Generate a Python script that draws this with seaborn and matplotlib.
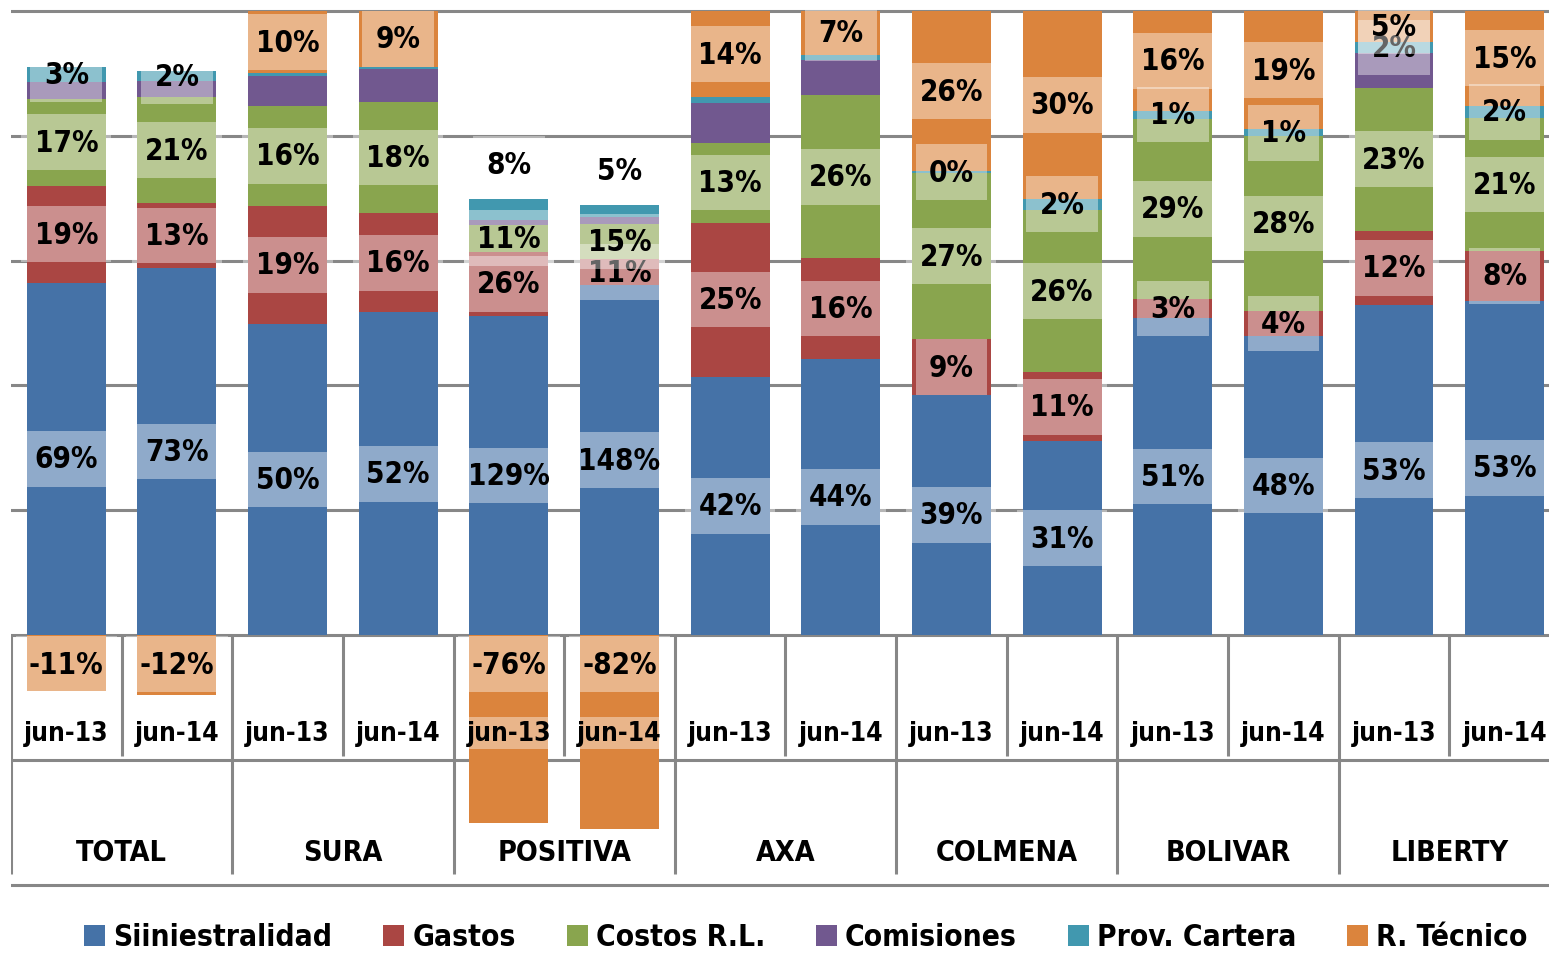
import numpy as np
import pandas as pd
import matplotlib
matplotlib.use("Agg")
import matplotlib.pyplot as plt
from matplotlib.patches import Patch
from matplotlib import font_manager as fm
import seaborn as sns

# ---------------- data ----------------
companies = ["TOTAL", "SURA", "POSITIVA", "AXA", "COLMENA", "BOLIVAR", "LIBERTY"]
periods = ["jun-13", "jun-14"]

series_names = ["Siiniestralidad", "Gastos", "Costos R.L.", "Comisiones",
                "Prov. Cartera", "R. Técnico"]

siniestralidad = [69, 73, 50, 52, 129, 148, 42, 44, 39, 31, 51, 48, 53, 53]
gastos = [19, 13, 19, 16, 26, 11, 25, 16, 9, 11, 3, 4, 12, 8]
costos_rl = [17, 21, 16, 18, 11, 15, 13, 26, 27, 26, 29, 28, 23, 21]
comisiones = [3.3, 3.2, 4.8, 5.3, 2.0, 3.0, 6.4, 5.6, 0, 0, 0, 0, 5.5, 0]
prov_cartera = [2.9, 2.0, 0.5, 0.3, 8.4, 5.0, 1.0, 0.8, 0.3, 1.8, 1.3, 1.1, 1.8, 2.0]
r_tecnico = [-11, -12, 10, 9, -76, -82, 14, 7, 26, 30, 16, 19, 5, 15]

# which data labels are displayed
prov_label_shown = [True, True, False, False, True, True, False, False,
                    True, True, True, True, True, True]
label_shown = {
    "Siiniestralidad": [True] * 14,
    "Gastos": [True] * 14,
    "Costos R.L.": [True] * 14,
    "Comisiones": [False] * 14,
    "Prov. Cartera": prov_label_shown,
    "R. Técnico": [True] * 14,
}
# labels moved outside (above) the bar
label_outside = {("Prov. Cartera", "POSITIVA")}

colors = {
    "Siiniestralidad": "#4572A7",
    "Gastos": "#AA4643",
    "Costos R.L.": "#89A54E",
    "Comisiones": "#71588F",
    "Prov. Cartera": "#4198AF",
    "R. Técnico": "#DB843D",
}

values = {
    "Siiniestralidad": siniestralidad,
    "Gastos": gastos,
    "Costos R.L.": costos_rl,
    "Comisiones": comisiones,
    "Prov. Cartera": prov_cartera,
    "R. Técnico": r_tecnico,
}

# ---------------- font choice ----------------
font_family, font_stretch = "Roboto", "normal"
for f in fm.fontManager.ttflist:
    if "Narrow" in f.name or "Condensed" in f.name or f.stretch in ("condensed", "semi-condensed"):
        font_family, font_stretch = f.name, f.stretch
        break
plt.rcParams["font.family"] = [font_family, "DejaVu Sans"]
plt.rcParams["font.stretch"] = font_stretch
plt.rcParams["font.weight"] = "bold"

# ---------------- preparation ----------------
cat_company = [c for c in companies for _ in periods]
cat_period = [p for _ in companies for p in periods]
cat_ids = [f"{c} {p}" for c, p in zip(cat_company, cat_period)]
n = len(cat_ids)

vals = np.array([values[s] for s in series_names], dtype=float)  # (6, n)
pos = np.clip(vals, 0, None)
neg = np.clip(vals, None, 0)
total_abs = np.abs(vals).sum(axis=0)
pos_n = pos / total_abs
neg_n = neg / total_abs
cum_top = np.cumsum(pos_n, axis=0)
cum_bot = cum_top - pos_n

W, H = 1549, 954
fig = plt.figure(figsize=(W / 100, H / 100), dpi=100)
renderer = fig.canvas.get_renderer()


def fit_size(sample, target_px, cap=60):
    t = fig.text(0, 0, sample, fontsize=20, fontweight="bold")
    w = t.get_window_extent(renderer=renderer).width
    t.remove()
    return min(cap, 20 * target_px / w)


lab_fs = fit_size("148%", 82)
tick_fs = fit_size("jun-13", 85)
grp_fs = fit_size("COLMENA", 142)
leg_fs = fit_size("Siiniestralidad", 219)
leg_px = leg_fs * 100 / 72

px_per_unit = 624.0
y_lo, y_hi = -0.41, 1.01
top_px = 12 - (y_hi - 1.0) * px_per_unit
h_px = (y_hi - y_lo) * px_per_unit
left_px, slot = 11.0, 110.64
ax = fig.add_axes([left_px / W, 1 - (top_px + h_px) / H, slot * n / W, h_px / H])

bar_w = 0.714
for i in range(len(series_names) - 1, -1, -1):
    s = series_names[i]
    df = pd.DataFrame({"cat": cat_ids, "h": cum_top[i]})
    sns.barplot(data=df, x="cat", y="h", order=cat_ids, color=colors[s],
                saturation=1, width=bar_w, edgecolor="none", linewidth=0,
                errorbar=None, ax=ax, zorder=2)
df_neg = pd.DataFrame({"cat": cat_ids, "h": neg_n[-1]})
sns.barplot(data=df_neg, x="cat", y="h", order=cat_ids, color=colors["R. Técnico"],
            saturation=1, width=bar_w, edgecolor="none", linewidth=0,
            errorbar=None, ax=ax, zorder=2)

ax.set_xlim(-0.5, n - 0.5)
ax.set_ylim(y_lo, y_hi)
ax.set_yticks(np.arange(-0.4, 1.01, 0.2))
ax.yaxis.grid(True, color="#878787", linewidth=2.2)
ax.xaxis.grid(False)
ax.set_axisbelow(True)
ax.tick_params(left=False, labelleft=False, bottom=False, labelbottom=False)
for sp in ax.spines.values():
    sp.set_visible(False)
ax.set_xlabel("")
ax.set_ylabel("")
ax.set_facecolor("white")


def px2y(px):
    return -(px - 636) / px_per_unit


for k in range(n + 1):
    ybot = px2y(875) if k % 2 == 0 else px2y(757)
    ax.plot([k - 0.5, k - 0.5], [0, ybot], color="#878787", lw=2.2,
            zorder=1, solid_capstyle="butt")

box = dict(boxstyle="square,pad=0.45", facecolor="white", alpha=0.4, edgecolor="none")
for i, s in enumerate(series_names):
    for j in range(n):
        if not label_shown[s][j]:
            continue
        v = vals[i, j]
        txt = f"{int(round(v))}%"
        if v < 0:
            ax.annotate(txt, xy=(j, 0), xytext=(0, -21), textcoords="offset points",
                        ha="center", va="center", fontsize=lab_fs, fontweight="bold",
                        bbox=box, zorder=5)
        elif (s, cat_company[j]) in label_outside:
            top = cum_top[-1, j]
            ax.annotate(txt, xy=(j, top), xytext=(0, 25), textcoords="offset points",
                        ha="center", va="center", fontsize=lab_fs, fontweight="bold",
                        bbox=box, zorder=5)
        else:
            yc = (cum_bot[i, j] + cum_top[i, j]) / 2
            ax.text(j, yc, txt, ha="center", va="center", fontsize=lab_fs,
                    fontweight="bold", bbox=box, zorder=5)

tick_box = dict(boxstyle="square,pad=0.12", facecolor="white", alpha=0.4, edgecolor="none")
for j in range(n):
    ax.text(j, px2y(734), cat_period[j], ha="center", va="center", fontsize=tick_fs,
            fontweight="bold", bbox=tick_box, zorder=6)
for g, c in enumerate(companies):
    ax.text(2 * g + 0.5, px2y(853), c, ha="center", va="center", fontsize=grp_fs,
            fontweight="bold", zorder=6)

handles = [Patch(facecolor=colors[s], edgecolor="none", label=s) for s in series_names]
fig.legend(handles=handles, loc="center", bbox_to_anchor=(806 / W, 1 - 938 / H), ncol=6,
           frameon=False, prop={"weight": "bold", "size": leg_fs},
           handlelength=21 / leg_px, handleheight=21 / leg_px,
           handletextpad=8 / leg_px, columnspacing=51 / leg_px, borderaxespad=0)

fig.savefig("out.png", dpi=100, facecolor="white")
